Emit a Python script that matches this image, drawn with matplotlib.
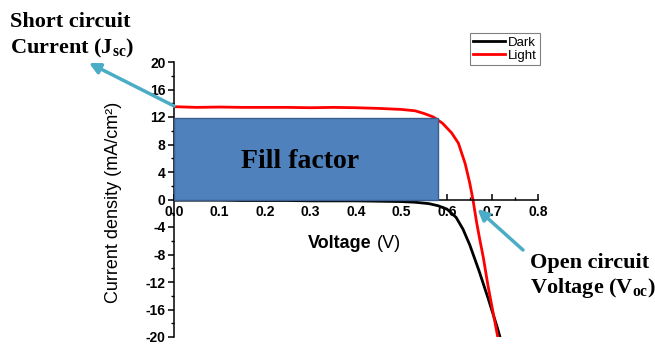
import numpy as np
import matplotlib
matplotlib.use('Agg')
import matplotlib.pyplot as plt
from matplotlib.patches import Rectangle
from matplotlib.ticker import MultipleLocator

plt.rcParams['font.family'] = 'Liberation Sans'
plt.rcParams['axes.unicode_minus'] = False
plt.rcParams['mathtext.fontset'] = 'custom'
plt.rcParams['mathtext.bf'] = 'Liberation Serif:bold'
plt.rcParams['mathtext.rm'] = 'Liberation Serif:bold'

## J-V curve
v_dark = [0.0, 0.05, 0.10, 0.15, 0.20, 0.25, 0.30, 0.35, 0.40, 0.45, 0.50,
          0.53, 0.56, 0.58, 0.60, 0.62, 0.635, 0.65, 0.67, 0.69, 0.71, 0.725]
j_dark = [-0.1, -0.1, -0.1, -0.15, -0.15, -0.15, -0.2, -0.2, -0.2, -0.25, -0.3,
          -0.4, -0.6, -0.9, -1.4, -2.6, -4.3, -6.6, -10.3, -14.3, -18.5, -22.0]

v_light = [0.0, 0.05, 0.10, 0.15, 0.20, 0.25, 0.30, 0.35, 0.40, 0.45, 0.50,
           0.53, 0.55, 0.57, 0.59, 0.61, 0.625, 0.64, 0.65, 0.657, 0.665,
           0.672, 0.68, 0.69, 0.70, 0.711, 0.72]
j_light = [13.5, 13.4, 13.45, 13.4, 13.4, 13.4, 13.35, 13.4, 13.35, 13.25, 13.1,
           12.9, 12.5, 12.0, 11.1, 9.7, 8.2, 5.2, 2.4, 0.0, -3.3,
           -5.8, -8.5, -12.5, -16.0, -19.8, -23.0]

## maximum power point (fill factor box) and arrow targets
v_mp, j_mp = 0.581, 11.9
jsc_point = (0.0, 13.6)
voc_point = (0.667, -1.4)

blue = '#4F81BD'
arrow_col = '#4BACC6'

fig = plt.figure(figsize=(6.55, 3.44), dpi=100)
ax = fig.add_axes([174/655, 1-337/344, 364/655, 275/344])

ax.plot(v_dark, j_dark, color='black', lw=2.0, label='Dark')
ax.plot(v_light, j_light, color='#FF0000', lw=2.0, label='Light')
ax.add_patch(Rectangle((0, 0), v_mp, j_mp, facecolor=blue, edgecolor='#3A5F8F',
                       lw=1.0, zorder=3))
ax.text(0.2775, 4.6, 'Fill factor', family='Liberation Serif', weight='bold',
        fontsize=20, ha='center', va='baseline', zorder=4)

ax.set_xlim(0, 0.8)
ax.set_ylim(-20, 20)
ax.spines['top'].set_visible(False)
ax.spines['right'].set_visible(False)
ax.spines['bottom'].set_position(('data', 0))
for s in ['left', 'bottom']:
    ax.spines[s].set_linewidth(1.1)
ax.xaxis.set_major_locator(MultipleLocator(0.1))
ax.xaxis.set_minor_locator(MultipleLocator(0.05))
ax.yaxis.set_major_locator(MultipleLocator(4))
ax.yaxis.set_minor_locator(MultipleLocator(2))
ax.set_xticks(ax.get_xticks())
ax.set_xticklabels(['%.1f' % t for t in ax.get_xticks()])
ax.set_xlim(0, 0.8)
ax.tick_params(axis='x', which='major', direction='in', length=4, width=1.1, pad=4,
               labelsize=10)
ax.tick_params(axis='x', which='minor', direction='in', length=2.5, width=1.0)
ax.tick_params(axis='y', which='major', direction='out', length=4, width=1.1, pad=2,
               labelsize=10)
ax.tick_params(axis='y', which='minor', direction='out', length=2.5, width=1.0)
for lab in ax.get_xticklabels() + ax.get_yticklabels():
    lab.set_fontweight('bold')

## axis labels
fig.text(114/655, 1-202/344, 'Current density (mA/cm²)', rotation=90,
         ha='center', va='center', fontsize=13)
fig.text(372/655, 1-248/344, 'Voltage', weight='bold', ha='right',
         va='baseline', fontsize=13)
fig.text(377/655, 1-248/344, '(V)', ha='left', va='baseline', fontsize=13)

## legend
leg = ax.legend(loc='upper left', bbox_to_anchor=(470/655, 1-33/344),
                bbox_transform=fig.transFigure, borderaxespad=0, fontsize=9.5,
                handlelength=2.4, handletextpad=0.2, borderpad=0.25,
                labelspacing=0.1, fancybox=False, framealpha=1)
leg.get_frame().set_edgecolor('#808080')
leg.get_frame().set_linewidth(0.8)

## annotations
serif = dict(family='Liberation Serif', weight='bold', fontsize=16)
fig.text(10/655, 1-27/344, 'Short circuit', ha='left', va='baseline', **serif)
fig.text(10/655, 1-53/344, r'Current (J$_{\mathbf{sc}}$)', ha='left',
         va='baseline', **serif)
fig.text(530/655, 1-268/344, 'Open circuit', ha='left', va='baseline', **serif)
fig.text(530/655, 1-293/344, r'Voltage (V$_{\mathbf{oc}}$)', ha='left',
         va='baseline', **serif)

aprops = dict(arrowstyle='-|>', color=arrow_col, lw=2.5, mutation_scale=16,
              shrinkA=0, shrinkB=0)
ax.annotate('', xy=(89/655, 1-63/344), xycoords='figure fraction',
            xytext=jsc_point, textcoords='data', arrowprops=aprops,
            annotation_clip=False, zorder=5)
ax.annotate('', xy=voc_point, xycoords='data',
            xytext=(523/655, 1-250/344), textcoords='figure fraction',
            arrowprops=aprops, annotation_clip=False, zorder=5)

fig.savefig('out.png', dpi=100)
